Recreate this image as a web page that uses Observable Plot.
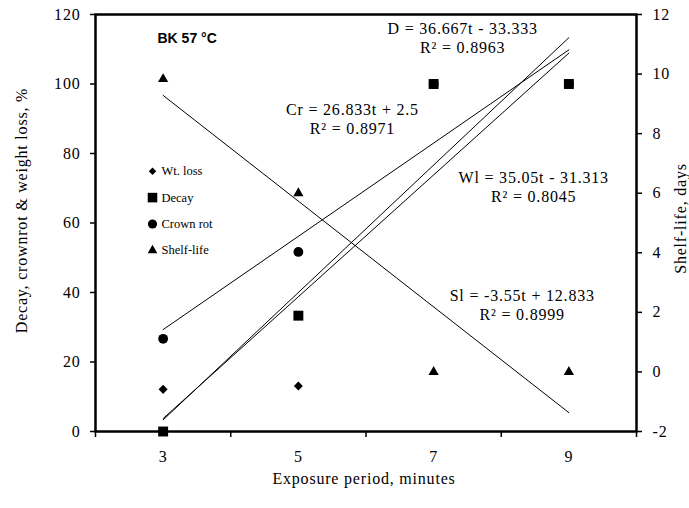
<!DOCTYPE html>
<html>
<head>
<meta charset="utf-8">
<script src="https://cdn.jsdelivr.net/npm/d3@7"></script>
<script src="https://cdn.jsdelivr.net/npm/@observablehq/plot@0.6"></script>
<style>
  html, body { margin: 0; padding: 0; background: white; }
  #chart svg text { letter-spacing: 0.8px; }
  #chart svg text.nosp, #chart svg .nosp text { letter-spacing: 0; }
</style>
</head>
<body>
<div id="chart"></div>
<script>
// ---- data ----
const minutes = [3, 5, 7, 9];
const wtLoss = [12.125, 13.125, 100, 100];
const decay = [0, 33.333, 100, 100];
const crownRot = [26.667, 51.667, 100, 100];
const shelfLife = [9.833, 6, 0, 0];

const leftTicks = [0, 20, 40, 60, 80, 100, 120];
const rightTicks = [-2, 0, 2, 4, 6, 8, 10, 12];
const xTickLabels = [3, 5, 7, 9];

// regressions (t = 1..4)
const fitNames = ["Wl", "D", "Cr", "Sl"];
const fitSlopes = [35.05, 36.667, 26.833, -3.55];
const fitIntercepts = [-31.313, -33.333, 2.5, 12.833];
const fitR2 = ["0.8045", "0.8963", "0.8971", "0.8999"];
const fitRightAxis = [false, false, false, true];
const fitEqText = [
  "Wl = 35.05t - 31.313",
  "D = 36.667t - 33.333",
  "Cr = 26.833t + 2.5",
  "Sl = -3.55t + 12.833"
];

const legendLabels = ["Wt. loss", "Decay", "Crown rot", "Shelf-life"];

// ---- layout (annotation anchor positions, in data units) ----
const eqX = [8.48, 7.43, 5.80, 8.31];
const eqY = [70.6, 113.4, 90.2, 36.5];

// right axis mapping onto left scale
const rMin = -2, rMax = 12, lMax = 120;
const toLeft = v => (v - rMin) / (rMax - rMin) * lMax;
const fromLeft = v => v / lMax * (rMax - rMin) + rMin;

const pts = minutes.map((m, i) => ({
  x: m, wl: wtLoss[i], d: decay[i], cr: crownRot[i], sl: toLeft(shelfLife[i])
}));

const fitLines = [];
fitNames.forEach((n, k) => {
  [1, 4].forEach(t => {
    const v = fitSlopes[k] * t + fitIntercepts[k];
    fitLines.push({name: n, x: minutes[t - 1], y: fitRightAxis[k] ? toLeft(v) : v});
  });
});

const eqs = fitNames.map((n, k) => ({x: eqX[k], y: eqY[k], text: fitEqText[k] + "\nR\u00B2 = " + fitR2[k]}));

const legendSymbols = [
  {symbol: "square", rotate: 45, r: 3.0},
  {symbol: "square", rotate: 0, r: 5.4},
  {symbol: "circle", rotate: 0, r: 4.6},
  {symbol: "triangle", rotate: 0, r: 3.6}
];
const legendMarks = [];
legendLabels.forEach((lab, i) => {
  const dy = 156.7 + i * 26.4;
  legendMarks.push(Plot.dot([lab], {frameAnchor: "top-left", dx: 57, dy, symbol: legendSymbols[i].symbol,
    rotate: legendSymbols[i].rotate, r: legendSymbols[i].r, fill: "black", stroke: "none"}));
  legendMarks.push(Plot.text([lab], {frameAnchor: "top-left", dx: 66, dy, text: d => d, textAnchor: "start",
    lineAnchor: "middle", fontSize: 12.5, fill: "black", className: "nosp"}));
});

const chart = Plot.plot({
  width: 689,
  height: 508,
  marginLeft: 95,
  marginRight: 53,
  marginTop: 14,
  marginBottom: 77,
  x: {domain: [2, 10], label: null},
  y: {domain: [0, 120], label: null},
  style: {fontFamily: "'Liberation Serif', 'Times New Roman', serif", fontSize: "16px", color: "black", background: "white"},
  marks: [
    // axes
    Plot.axisY({ticks: leftTicks, tickSize: 5, tickPadding: 10, strokeWidth: 1.5, label: null, fontSize: 16}),
    Plot.axisY({anchor: "right", ticks: rightTicks.map(toLeft), tickFormat: d => `${Math.round(fromLeft(d))}`,
      tickSize: 5, tickPadding: 11, strokeWidth: 1.5, label: null, fontSize: 16}),
    Plot.axisX({ticks: [2, 4, 6, 8, 10], tickFormat: () => "", tickSize: 6, strokeWidth: 1.5, label: null}),
    Plot.axisX({ticks: xTickLabels, tickSize: 0, tickPadding: 19, label: null, fontSize: 16}),
    // regression lines
    Plot.line(fitLines, {x: "x", y: "y", z: "name", stroke: "black", strokeWidth: 1}),
    // points
    Plot.dot(pts, {x: "x", y: "wl", symbol: "square", rotate: 45, r: 3.6, fill: "black", stroke: "none"}),
    Plot.dot(pts, {x: "x", y: "cr", symbol: "circle", r: 4.9, fill: "black", stroke: "none"}),
    Plot.dot(pts, {x: "x", y: "sl", symbol: "triangle", r: 3.8, fill: "black", stroke: "none"}),
    Plot.dot(pts, {x: "x", y: "d", symbol: "square", r: 5.6, fill: "black", stroke: "none"}),
    // equations
    Plot.text(eqs, {x: "x", y: "y", text: "text", fontSize: 16, lineHeight: 1.2, fill: "black"}),
    // legend
    ...legendMarks,
    // title
    Plot.text(["BK 57 \u00B0C"], {frameAnchor: "top-left", dx: 62, dy: 24, text: d => d, textAnchor: "start", lineAnchor: "middle",
      fontFamily: "'Liberation Sans', Arial, sans-serif", fontWeight: "bold", fontSize: 14, fill: "black", className: "nosp"}),
    // axis labels
    Plot.text(["Exposure period, minutes"], {frameAnchor: "bottom", dx: -2, dy: 47, text: d => d, lineAnchor: "middle", fontSize: 16, fill: "black"}),
    Plot.text(["Decay, crownrot & weight loss, %"], {frameAnchor: "left", dx: -74, dy: -12.5, rotate: -90, text: d => d,
      textAnchor: "middle", lineAnchor: "middle", fontSize: 16, fill: "black"}),
    Plot.text(["Shelf-life, days"], {frameAnchor: "right", dx: 44, dy: -4.5, rotate: -90, text: d => d,
      textAnchor: "middle", lineAnchor: "middle", fontSize: 16, fill: "black"}),
    // frame
    Plot.frame({stroke: "black", strokeWidth: 2.5})
  ]
});
document.getElementById("chart").appendChild(chart);
</script>
</body>
</html>
